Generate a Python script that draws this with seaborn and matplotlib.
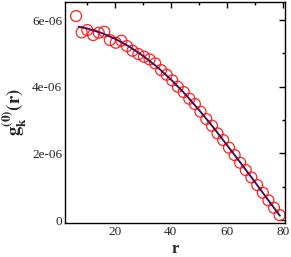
import matplotlib
matplotlib.use("Agg")
import matplotlib.pyplot as plt
import seaborn as sns
import pandas as pd
from matplotlib.ticker import MultipleLocator, FixedLocator

sns.set_theme(style="white")
plt.rcParams['font.family'] = ['Liberation Serif', 'DejaVu Serif']
plt.rcParams['mathtext.fontset'] = 'stix'

# data (y in units of 1e-06)
pts_r = [6.1, 8.1, 10.1, 12.2, 14.2, 16.2, 18.2, 20.3, 22.3, 24.3, 26.3, 28.4, 30.4,
         32.4, 34.4, 36.5, 38.5, 40.5, 42.5, 44.6, 46.6, 48.6, 50.6, 52.7, 54.7,
         56.7, 58.7, 60.8, 62.8, 64.8, 66.8, 68.8, 70.9, 72.9, 74.9, 76.9, 78.9]
pts_g = [6.12, 5.63, 5.70, 5.55, 5.62, 5.65, 5.40, 5.32, 5.38, 5.22, 5.08, 4.98, 4.90,
         4.82, 4.70, 4.50, 4.36, 4.19, 4.00, 3.84, 3.64, 3.48, 3.25, 3.03, 2.83,
         2.60, 2.40, 2.17, 1.95, 1.72, 1.50, 1.28, 1.05, 0.82, 0.59, 0.37, 0.15]
fit_r = [7, 10, 15, 20, 25, 30, 35, 40, 45, 50, 55, 60, 65, 70, 75, 79]
fit_g = [5.80, 5.75, 5.62, 5.44, 5.21, 4.93, 4.60, 4.22, 3.79, 3.31, 2.80, 2.26, 1.71, 1.15, 0.58, 0.13]
ytick_vals = [0, 2e-06, 4e-06, 6e-06]
ytick_labels = ["0", "2e-06", "4e-06", "6e-06"]
xtick_vals = [20, 40, 60, 80]

pts = pd.DataFrame({"r": pts_r, "g": [v * 1e-06 for v in pts_g]})
fit = pd.DataFrame({"r": fit_r, "g": [v * 1e-06 for v in fit_g]})

fig = plt.figure(figsize=(2.91, 2.57), dpi=100)
ax = fig.add_axes([0.223, 0.132, 0.758, 0.860])

sns.scatterplot(data=pts, x="r", y="g", ax=ax, marker="o", s=62,
                facecolors="none", edgecolor="#ff2020", linewidth=0.9, zorder=2)
sns.lineplot(data=fit, x="r", y="g", ax=ax, color="#4a1050", linewidth=1.4, zorder=3)

ax.set_xlim(2.1, 81)
ax.set_ylim(-0.09e-06, 6.54e-06)
ax.xaxis.set_major_locator(FixedLocator(xtick_vals))
ax.xaxis.set_minor_locator(MultipleLocator(10))
ax.yaxis.set_major_locator(FixedLocator(ytick_vals))
ax.set_yticklabels(ytick_labels)
ax.yaxis.set_minor_locator(MultipleLocator(1e-06))

ax.tick_params(which="both", direction="in", top=True, right=True, color="black",
               labelsize=9.5, pad=2)
ax.tick_params(which="major", length=4.5, width=1.0)
ax.tick_params(which="minor", length=2.5, width=1.0)
for s in ax.spines.values():
    s.set_visible(True)
    s.set_color("black")
    s.set_linewidth(1.0)

ax.set_xlabel("r", fontsize=12, fontweight="bold", labelpad=2)
ax.set_ylabel(r"$\mathbf{g_k^{(0)}(r)}$", fontsize=13.5, labelpad=2)

fig.savefig("out.png", dpi=100)
